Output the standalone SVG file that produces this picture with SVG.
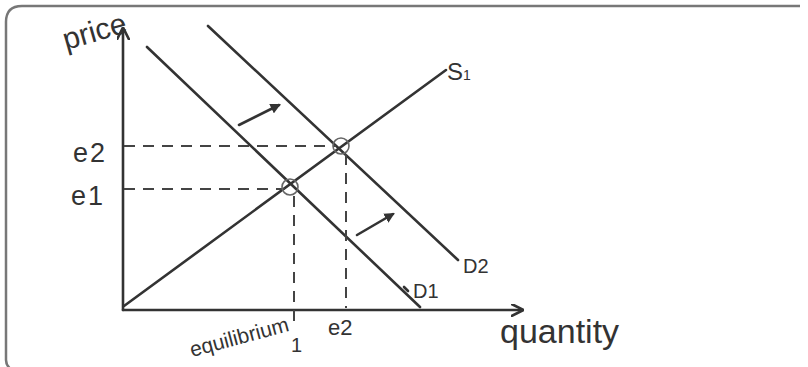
<svg xmlns="http://www.w3.org/2000/svg" width="808" height="367" viewBox="0 0 808 367">
<defs>
<style>
.ln{stroke:#333;stroke-width:2.6;fill:none;stroke-linecap:round}
.dash{stroke:#444;stroke-width:2;fill:none;stroke-dasharray:11 8}
.c{stroke:#666;stroke-width:1.6;fill:none}
.t{font-family:"Liberation Sans","DejaVu Sans",sans-serif;fill:#333}
</style>
<marker id="ah" viewBox="0 0 10 10" refX="8" refY="5" markerWidth="5" markerHeight="5" orient="auto"><path d="M0,0 L10,5 L0,10" fill="none" stroke="#333" stroke-width="2"/></marker>
<marker id="sh" viewBox="0 0 10 10" refX="8" refY="5" markerWidth="4" markerHeight="4" orient="auto"><path d="M0,0 L10,5 L0,10 z" fill="#333"/></marker>
</defs>
<rect width="808" height="367" fill="#fff"/>
<path d="M800 6 H22 Q6 6 6 22 V360 Q6 366 12 370" fill="none" stroke="#777" stroke-width="2.5"/>
<g id="axes">
<line class="ln" x1="123" y1="310" x2="123" y2="30" marker-end="url(#ah)"/>
<line class="ln" x1="123" y1="310" x2="521" y2="310" marker-end="url(#ah)"/>
</g>
<g id="connectors">
<line id="S1" class="ln" x1="124" y1="306" x2="446" y2="70"/>
<line id="D1" class="ln" x1="147" y1="47" x2="420" y2="307"/>
<line id="D2" class="ln" x1="208" y1="26" x2="458" y2="260"/>
<line class="dash" x1="124" y1="146" x2="336" y2="146"/>
<line class="dash" x1="124" y1="189" x2="285" y2="189"/>
<line class="dash" x1="294" y1="196" x2="294" y2="322"/>
<line class="dash" x1="346" y1="154" x2="346" y2="308"/>
<line class="ln" x1="239" y1="125" x2="279" y2="105" stroke-width="3.4" marker-end="url(#sh)"/>
<line class="ln" x1="357" y1="235" x2="393" y2="214" stroke-width="3.4" marker-end="url(#sh)"/>
<line class="ln" x1="404" y1="287" x2="408" y2="291" stroke-width="2"/>
</g>
<g id="e1pt"><circle class="c" cx="290" cy="187" r="8"/></g>
<g id="e2pt"><circle class="c" cx="341" cy="146" r="8"/></g>
<g id="labels">
<text class="t" x="66" y="50" font-size="30" transform="rotate(-16 66 50)">price</text>
<text class="t" x="447" y="80" font-size="24">S<tspan font-size="14">1</tspan></text>
<text class="t" x="463" y="273" font-size="20">D2</text>
<text class="t" x="413" y="298" font-size="20">D1</text>
<text class="t" x="73" y="162" font-size="27" letter-spacing="2">e2</text>
<text class="t" x="71" y="205" font-size="27" letter-spacing="2">e1</text>
<text class="t" x="192" y="357" font-size="21" transform="rotate(-15 192 357)">equilibrium</text>
<text class="t" x="291" y="352" font-size="20">1</text>
<text class="t" x="328" y="335" font-size="22">e2</text>
<text class="t" x="500" y="343" font-size="34">quantity</text>
</g>
</svg>
